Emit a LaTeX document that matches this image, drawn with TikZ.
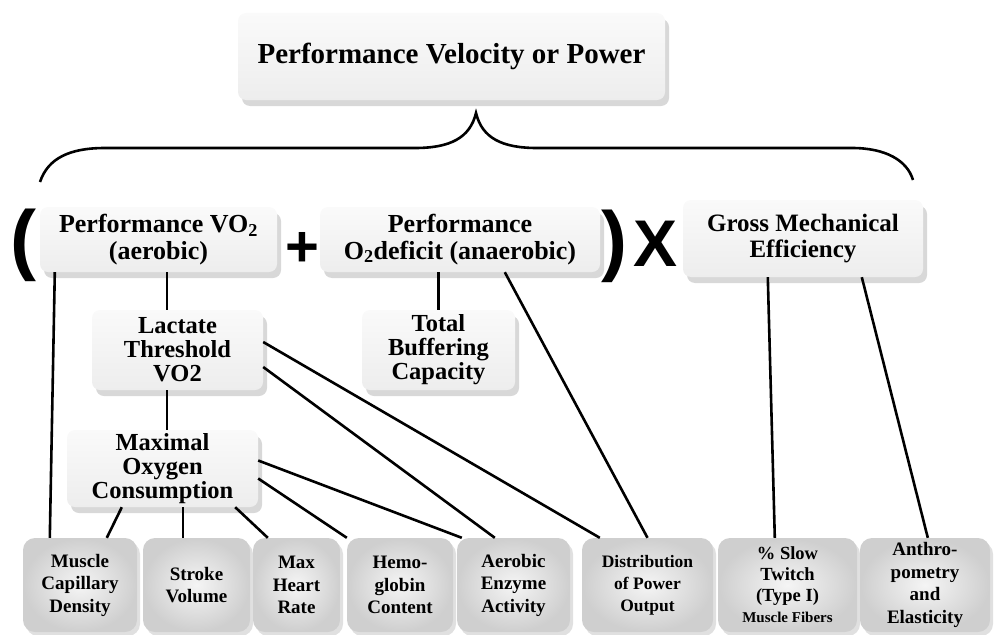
\documentclass[tikz,border=0pt]{standalone}
\usepackage{fontspec}
\setmainfont{Liberation Serif}
\newfontfamily\opfont{Liberation Sans}
\usetikzlibrary{calc,shadows}

\begin{document}
\begin{tikzpicture}[x=1pt, y=-1pt,
	box/.style={rounded corners=8pt, top color=gray!4, bottom color=gray!14, drop shadow={shadow xshift=4pt, shadow yshift=-6pt, fill=gray!60, opacity=.5}, align=center, inner sep=0pt},
	leaf/.style={rounded corners=12pt, inner color=gray!8, outer color=gray!38, drop shadow={shadow xshift=3pt, shadow yshift=-4pt, fill=gray!60, opacity=.4}, align=center, inner sep=0pt, minimum height=94pt, font={\bfseries\fontsize{19}{22.5}\selectfont}},
	link/.style={line width=2.6pt},
	op/.style={inner sep=0pt, font=\opfont\bfseries}]
	\useasboundingbox (0,0) rectangle (995,634);
	% top and the three factors
	\node[box, minimum width=427pt, minimum height=87pt, font={\bfseries\fontsize{29}{30}\selectfont}] (pvp) at (451.5,56.5) {Performance Velocity or Power};
	\node[box, minimum width=237pt, minimum height=65pt, font={\bfseries\fontsize{26}{26.5}\selectfont}] (aer) at (158.5,239.5) {Performance VO\textsubscript{2}\\(aerobic)};
	\node[box, minimum width=280pt, minimum height=65pt, font={\bfseries\fontsize{26}{26.5}\selectfont}] (anaer) at (460,239.5) {Performance\\O\textsubscript{2}deficit (anaerobic)};
	\node[box, minimum width=240pt, minimum height=77pt, font={\bfseries\fontsize{25}{26}\selectfont}] (gme) at (803,238.5) {Gross Mechanical\\Efficiency};
	\node[op, font={\opfont\bfseries\fontsize{78}{78}\selectfont}] (lpar) at (23,245) {(};
	\node[op, font={\opfont\bfseries\fontsize{58}{58}\selectfont}] (plus) at (302,249) {+};
	\node[op, font={\opfont\bfseries\fontsize{78}{78}\selectfont}] (rpar) at (614,246) {)};
	\node[op, font={\opfont\bfseries\fontsize{66}{66}\selectfont}] (times) at (656,244) {X};
	% middle row
	\node[box, minimum width=171pt, minimum height=80pt, font={\bfseries\fontsize{24.5}{24}\selectfont}] (lt) at (177.5,350) {Lactate\\Threshold\\VO2};
	\node[box, minimum width=153pt, minimum height=80pt, font={\bfseries\fontsize{24.5}{24}\selectfont}] (tbc) at (438.5,350) {Total\\Buffering\\Capacity};
	\node[box, minimum width=191pt, minimum height=77pt, font={\bfseries\fontsize{24.5}{24}\selectfont}] (mox) at (162.5,468.5) {Maximal\\Oxygen\\Consumption};
	% bottom row
	\node[leaf, minimum width=114pt] (mcd) at (80,585) {Muscle\\Capillary\\Density};
	\node[leaf, minimum width=107pt] (sv) at (196.5,585) {Stroke\\Volume};
	\node[leaf, minimum width=87pt] (mhr) at (296.5,585) {Max\\Heart\\Rate};
	\node[leaf, minimum width=106pt] (hb) at (400,585) {Hemo-\\globin\\Content};
	\node[leaf, minimum width=113pt] (aea) at (513.5,585) {Aerobic\\Enzyme\\Activity};
	\node[leaf, minimum width=131pt, font={\bfseries\fontsize{17.5}{22}\selectfont}] (dpo) at (647.5,585) {Distribution\\of Power\\Output};
	\node[leaf, minimum width=139pt, font={\bfseries\fontsize{18.5}{21}\selectfont}] (stf) at (787.5,585) {\% Slow\\Twitch\\(Type I)\\{\fontsize{15}{25}\selectfont Muscle Fibers}};
	\node[leaf, minimum width=130pt] (ape) at (925,585) {Anthro-\\pometry\\and\\Elasticity};
	% brace
	\draw[line width=2.6pt] (40,182) .. controls (48,158) and (70,148) .. (105,148) -- (415,148) .. controls (450,148) and (470,138) .. (476,113) .. controls (482,138) and (502,148) .. (537,148) -- (852,148) .. controls (885,148) and (907,160) .. (913,180);
	% connectors
	\draw[link] ([xshift=8.5pt]aer.south) -- ([xshift=-10.5pt]lt.north);
	\draw[link] ([xshift=-10.5pt]lt.south) -- ([xshift=4.5pt]mox.north);
	\draw[link] (tbc.north |- anaer.south) -- (tbc.north);
	\draw[link] ([xshift=27pt]mcd.north west) -- ([xshift=15pt]aer.south west);
	\draw[link] ([xshift=55pt]mox.south west) -- ([xshift=84pt]mcd.north west);
	\draw[link] ([xshift=116pt]mox.south west) -- ([xshift=40pt]sv.north west);
	\draw[link] ([xshift=-23pt]mox.south east) -- ([xshift=15pt]mhr.north west);
	\draw[link] ([yshift=-10pt]mox.east) -- (hb.north west);
	\draw[link] ([yshift=8pt]mox.east) -- ([xshift=5pt]aea.north west);
	\draw[link] ([yshift=-17pt]lt.east) -- ([xshift=38pt]aea.north west);
	\draw[link] ([yshift=8pt]lt.east) -- ([xshift=18pt]dpo.north west);
	\draw[link] ([xshift=185pt]anaer.south west) -- (dpo.north);
	\draw[link] ([xshift=85pt]gme.south west) -- ([xshift=57pt]stf.north west);
	\draw[link] ([xshift=179pt]gme.south west) -- ([xshift=68pt]ape.north west);
\end{tikzpicture}
\end{document}
